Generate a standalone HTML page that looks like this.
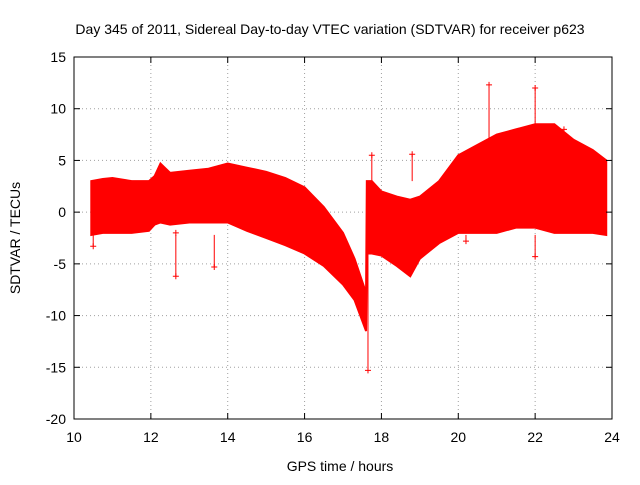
<!DOCTYPE html>
<html><head><meta charset="utf-8"><style>
body{margin:0;background:#fff;}
svg text{font-family:"Liberation Sans",sans-serif;font-size:14px;fill:#000;}
</style></head><body>
<svg id="chart" width="640" height="480">
<rect width="640" height="480" fill="#fff"/>
<text x="330" y="34" text-anchor="middle">Day 345 of 2011, Sidereal Day-to-day VTEC variation (SDTVAR) for receiver p623</text>
<text x="340" y="471" text-anchor="middle">GPS time / hours</text>
<text transform="translate(20,238) rotate(-90)" text-anchor="middle">SDTVAR / TECUs</text>
<g id="grid"></g><g id="data"></g><g id="axes"></g>
</svg>
<script>
const xTicks=[10,12,14,16,18,20,22,24];
const yTicks=[15,10,5,0,-5,-10,-15,-20];
const times=[10.45,10.75,11.0,11.5,11.95,12.1,12.25,12.5,13.0,13.5,14.0,14.5,15.0,15.5,16.0,16.5,17.0,17.3,17.6,17.62,17.75,18.0,18.4,18.75,19.0,19.5,20.0,20.5,21.0,21.5,22.0,22.5,23.0,23.5,23.85];
const upper=[3,3.2,3.3,3,3,3.5,4.7,3.8,4,4.2,4.7,4.3,3.9,3.3,2.4,0.5,-2,-4.5,-7.8,3,3,2,1.5,1.2,1.5,3,5.5,6.5,7.5,8,8.5,8.5,7,6,5];
const lower=[-2.2,-2,-2,-2,-1.8,-1.2,-1,-1.2,-1,-1,-1,-1.8,-2.5,-3.2,-4,-5.2,-7,-8.5,-11.5,-4,-4,-4.2,-5.2,-6.2,-4.5,-3,-2,-2,-2,-1.5,-1.5,-2,-2,-2,-2.2];
const outT=[12.65,13.65,17.65,18.8,20.8,22.0,22.0,22.75,17.75,12.65,10.5,20.2,21.3];
const outV=[-6.2,-5.3,-15.3,5.6,12.3,12.0,-4.3,8.0,5.5,-2.0,-3.3,-2.8,-1.5];
const X0=74,X1=612,Y0=57,Y1=419;
const sx=t=>X0+(t-10)/(24-10)*(X1-X0);
const sy=v=>Y0+(15-v)/(15+20)*(Y1-Y0);
const NS="http://www.w3.org/2000/svg";
function mk(tag,attrs,parent){const e=document.createElementNS(NS,tag);for(const k in attrs)e.setAttribute(k,attrs[k]);parent.appendChild(e);return e;}
const grid=document.getElementById('grid'),data=document.getElementById('data'),axes=document.getElementById('axes');
xTicks.forEach(t=>{
 if(t>10&&t<24){const g=mk('line',{x1:sx(t),x2:sx(t),y1:Y0,y2:Y1,stroke:'#a0a0a0','stroke-dasharray':'1,3'},grid);
 
 }
 const l=mk('text',{x:sx(t),y:Y1+23,'text-anchor':'middle'},axes);l.textContent=t;
 
 
 mk('line',{x1:sx(t),x2:sx(t),y1:Y1,y2:Y1-6,stroke:'#000'},axes);
 mk('line',{x1:sx(t),x2:sx(t),y1:Y0,y2:Y0+6,stroke:'#000'},axes);
});
yTicks.forEach(v=>{
 if(v<15&&v>-20){const g=mk('line',{x1:X0,x2:X1,y1:sy(v),y2:sy(v),stroke:'#a0a0a0','stroke-dasharray':'1,3'},grid);
 
 }
 const l=mk('text',{x:X0-8,y:sy(v)+5,'text-anchor':'end'},axes);l.textContent=v;
 
 
 mk('line',{x1:X0,x2:X0+6,y1:sy(v),y2:sy(v),stroke:'#000'},axes);
 mk('line',{x1:X1,x2:X1-6,y1:sy(v),y2:sy(v),stroke:'#000'},axes);
});
const fr=mk('rect',{x:X0,y:Y0,width:X1-X0,height:Y1-Y0,fill:'none',stroke:'#000'},axes);


let d='M'+times.map((t,i)=>sx(t)+','+sy(upper[i])).join('L');
for(let i=times.length-1;i>=0;i--)d+='L'+sx(times[i])+','+sy(lower[i]);
d+='Z';
const band=mk('path',{d:d,fill:'#ff0000',stroke:'#ff0000','stroke-width':2},data);


outT.forEach((t,i)=>{
 const x=sx(t),y=sy(outV[i]);
 const p=mk('path',{d:`M${x-3},${y}H${x+3}M${x},${y-3}V${y+3}`,stroke:'#ff0000','stroke-width':1},data);
 
 
 const ln=mk('line',{x1:x,x2:x,y1:y,y2:sy(Math.max(Math.min(outV[i],upper[0]),lower[0])),stroke:'#ff0000'},data);
 
 
});
</script>
</body></html>
